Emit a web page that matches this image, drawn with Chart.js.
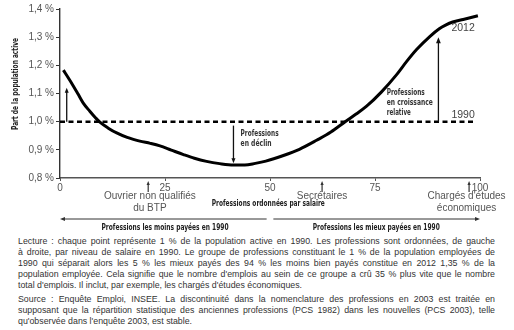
<!DOCTYPE html>
<html lang="fr">
<head>
<meta charset="utf-8">
<script src="https://cdn.jsdelivr.net/npm/chart.js@4.4.1/dist/chart.umd.min.js"></script>
<style>
  html, body { margin: 0; padding: 0; background: #fff; }
  #wrap { position: relative; width: 514px; height: 330px; overflow: hidden; }
  #chart-box { position: absolute; left: 0; top: 0; width: 514px; height: 234px; }
  .note { position: absolute; left: 18px; width: 477px; font-family: "Liberation Sans", Arial, sans-serif;
          font-size: 8.8px; line-height: 11px; color: #333; }
  .note div { white-space: nowrap; }
</style>
</head>
<body>
<div id="wrap">
  <div id="chart-box"><canvas id="share-chart"></canvas></div>
  <div class="note" style="top:235.5px">
    <div><span>Lecture : chaque point représente 1 % de la population active en 1990. Les professions sont ordonnées, de gauche</span></div>
    <div><span>à droite, par niveau de salaire en 1990. Le groupe de professions constituant le 1 % de la population employées de</span></div>
    <div><span>1990 qui séparait alors les 5 % les mieux payés des 94 % les moins bien payés constitue en 2012 1,35 % de la</span></div>
    <div><span>population employée. Cela signifie que le nombre d'emplois au sein de ce groupe a crû 35 % plus vite que le nombre</span></div>
    <div class="last"><span>total d'emplois. Il inclut, par exemple, les chargés d'études économiques.</span></div>
  </div>
  <div class="note" style="top:293.5px">
    <div><span>Source : Enquête Emploi, INSEE. La discontinuité dans la nomenclature des professions en 2003 est traitée en</span></div>
    <div><span>supposant que la répartition statistique des anciennes professions (PCS 1982) dans les nouvelles (PCS 2003), telle</span></div>
    <div class="last"><span>qu'observée dans l'enquête 2003, est stable.</span></div>
  </div>
</div>
<script>
// rang de la profession (percentile 1990) et part de la population active en 2012 (%)
const rankX = [0.8, 2, 3.2, 4.3, 5.5, 7.1, 8.5, 9.5, 11.5, 13.5, 16, 19, 21.5, 23.8, 26.5, 29.4, 32, 34.9,
               38, 41.3, 44, 46.5, 49, 53.2, 57, 61.1, 64.5, 67.9, 70.5, 73, 76.5, 80.2, 82.5, 84.9,
               88.1, 90.3, 91.8, 93.5, 96, 99.5];
const share2012 = [1.183, 1.155, 1.126, 1.098, 1.067, 1.037, 1.013, 0.998, 0.977, 0.960, 0.944, 0.931, 0.923,
                   0.914, 0.899, 0.883, 0.870, 0.859, 0.851, 0.846, 0.846, 0.852, 0.860, 0.880, 0.902, 0.934,
                   0.963, 1.000, 1.027, 1.055, 1.105, 1.168, 1.213, 1.256, 1.303, 1.330, 1.343, 1.354, 1.363, 1.376];
const refX = [0, 98.8];
const share1990 = [1.0, 1.0];
const yTicks = [0.8, 0.9, 1.0, 1.1, 1.2, 1.3, 1.4];
const xTicks = [0, 25, 50, 75, 100];

const COND = '"Liberation Sans Narrow", "DejaVu Sans Condensed", sans-serif';
const PLAIN = '"Liberation Sans", Arial, sans-serif';

// justify caption lines by word spacing (keeps the original line breaks)
document.querySelectorAll('.note div').forEach(function (d) {
    if (d.classList.contains('last')) return;
    const span = d.querySelector('span');
    const w = span.getBoundingClientRect().width;
    const gaps = (span.textContent.match(/ /g) || []).length;
    if (gaps) d.style.wordSpacing = ((477 - w) / gaps) + 'px';
});

function arrow(ctx, x1, y1, x2, y2, head) {
    const a = Math.atan2(y2 - y1, x2 - x1);
    const h = head || 5;
    ctx.beginPath();
    ctx.moveTo(x1, y1);
    ctx.lineTo(x2 - Math.cos(a) * h * 0.8, y2 - Math.sin(a) * h * 0.8);
    ctx.stroke();
    ctx.beginPath();
    ctx.moveTo(x2, y2);
    ctx.lineTo(x2 - h * Math.cos(a) + h * 0.4 * Math.sin(a), y2 - h * Math.sin(a) - h * 0.4 * Math.cos(a));
    ctx.lineTo(x2 - h * Math.cos(a) - h * 0.4 * Math.sin(a), y2 - h * Math.sin(a) + h * 0.4 * Math.cos(a));
    ctx.closePath();
    ctx.fill();
}

function text(ctx, str, x, y, font, align, maxW) {
    ctx.font = font;
    ctx.textAlign = align || 'left';
    if (maxW) ctx.fillText(str, x, y, maxW);
    else ctx.fillText(str, x, y);
}

const notesPlugin = {
    id: 'notes',
    afterDatasetsDraw(chart) {
        const { ctx } = chart;
        const xs = chart.scales.x, ys = chart.scales.y;
        const px = v => xs.getPixelForValue(v);
        const py = v => ys.getPixelForValue(v);
        const base = ys.bottom;

        ctx.save();
        ctx.strokeStyle = '#111';
        ctx.fillStyle = '#111';
        ctx.lineWidth = 1.3;
        arrow(ctx, px(1.6), py(1.0), px(1.6), py(1.12), 5);
        arrow(ctx, px(41.3), py(0.986), px(41.3), py(0.852), 5);
        arrow(ctx, px(90.1), py(1.0), px(90.1), py(1.30), 6);

        ctx.textBaseline = 'middle';
        ctx.fillStyle = '#333';
        text(ctx, 'Professions', px(43), py(0.957), '600 8.5px ' + COND, 'left', 38);
        text(ctx, 'en déclin', px(43), py(0.922), '600 8.5px ' + COND, 'left', 31);
        text(ctx, 'Professions', px(77.8), py(1.101), '600 8.5px ' + COND, 'left', 38);
        text(ctx, 'en croissance', px(77.8), py(1.066), '600 8.5px ' + COND, 'left', 46);
        text(ctx, 'relative', px(77.8), py(1.030), '600 8.5px ' + COND, 'left', 24);

        ctx.fillStyle = '#444';
        text(ctx, '2012', px(93.2), py(1.331), '10.5px ' + PLAIN, 'left');
        text(ctx, '1990', px(93.2), py(1.022), '10.5px ' + PLAIN, 'left');

        // titre de l'axe vertical
        ctx.save();
        ctx.translate(15.5, 84);
        ctx.rotate(-Math.PI / 2);
        ctx.fillStyle = '#222';
        text(ctx, 'Part de la population active', 0, 0, 'bold 9.5px ' + COND, 'center', 92);
        ctx.restore();

        // repères sous l'axe horizontal
        ctx.strokeStyle = '#333';
        ctx.fillStyle = '#333';
        ctx.lineWidth = 1.2;
        [21, 62.4, 97.4].forEach(v => arrow(ctx, px(v), base + 14, px(v), base + 3, 4));

        ctx.fillStyle = '#555';
        text(ctx, 'Ouvrier non qualifiés', px(21.4), base + 18.5, '10px ' + PLAIN, 'center');
        text(ctx, 'du BTP', px(21.4), base + 30, '10px ' + PLAIN, 'center');
        text(ctx, 'Secrétaires', px(62.4), base + 18.5, '10px ' + PLAIN, 'center');
        text(ctx, "Chargés d'études", px(96.8), base + 18.5, '10px ' + PLAIN, 'center');
        text(ctx, 'économiques', px(96.8), base + 30, '10px ' + PLAIN, 'center');

        ctx.fillStyle = '#222';
        text(ctx, 'Professions ordonnées par salaire', px(49.6), base + 26, '600 8.5px ' + COND, 'center', 113);

        ctx.strokeStyle = '#333';
        ctx.fillStyle = '#333';
        ctx.lineWidth = 1;
        arrow(ctx, px(49.2), base + 41, px(0), base + 41, 5);
        arrow(ctx, px(50.8), base + 41, px(100), base + 41, 5);

        ctx.fillStyle = '#222';
        text(ctx, 'Professions les moins payées en 1990', px(25), base + 50, '600 8.5px ' + COND, 'center', 127);
        text(ctx, 'Professions les mieux payées en 1990', px(75.3), base + 50, '600 8.5px ' + COND, 'center', 127);
        ctx.restore();
    }
};

new Chart(document.getElementById('share-chart'), {
    type: 'line',
    data: {
        datasets: [{
            label: '2012',
            data: rankX.map((v, i) => ({ x: v, y: share2012[i] })),
            borderColor: '#000',
            borderWidth: 3,
            pointRadius: 0,
            cubicInterpolationMode: 'monotone',
            fill: false
        }, {
            label: '1990',
            data: refX.map((v, i) => ({ x: v, y: share1990[i] })),
            borderColor: '#000',
            borderWidth: 2.5,
            borderDash: [5, 3.5],
            pointRadius: 0,
            fill: false
        }]
    },
    options: {
        responsive: true,
        maintainAspectRatio: false,
        animation: false,
        layout: { padding: { top: 9, right: 34, left: 0, bottom: 0 } },
        plugins: { legend: { display: false }, tooltip: { enabled: false } },
        scales: {
            x: {
                type: 'linear',
                min: 0,
                max: 100,
                afterBuildTicks: s => { s.ticks = xTicks.map(v => ({ value: v })); },
                afterFit: s => { s.height = 56; },
                border: { color: '#555', width: 1.4 },
                grid: { drawOnChartArea: false, tickLength: 3, color: '#555' },
                ticks: { padding: 1, color: '#555', font: { family: PLAIN, size: 10 }, maxRotation: 0, autoSkip: false }
            },
            y: {
                min: 0.8,
                max: 1.4,
                afterBuildTicks: s => { s.ticks = yTicks.map(v => ({ value: v })); },
                afterFit: s => { s.width = 60; },
                border: { color: '#333', width: 1.4 },
                grid: { drawOnChartArea: false, tickLength: 4, color: '#333' },
                ticks: {
                    padding: 2,
                    color: '#555',
                    font: { family: PLAIN, size: 10 },
                    callback: v => v.toFixed(1).replace('.', ',') + ' %'
                }
            }
        }
    },
    plugins: [notesPlugin]
});
</script>
</body>
</html>
